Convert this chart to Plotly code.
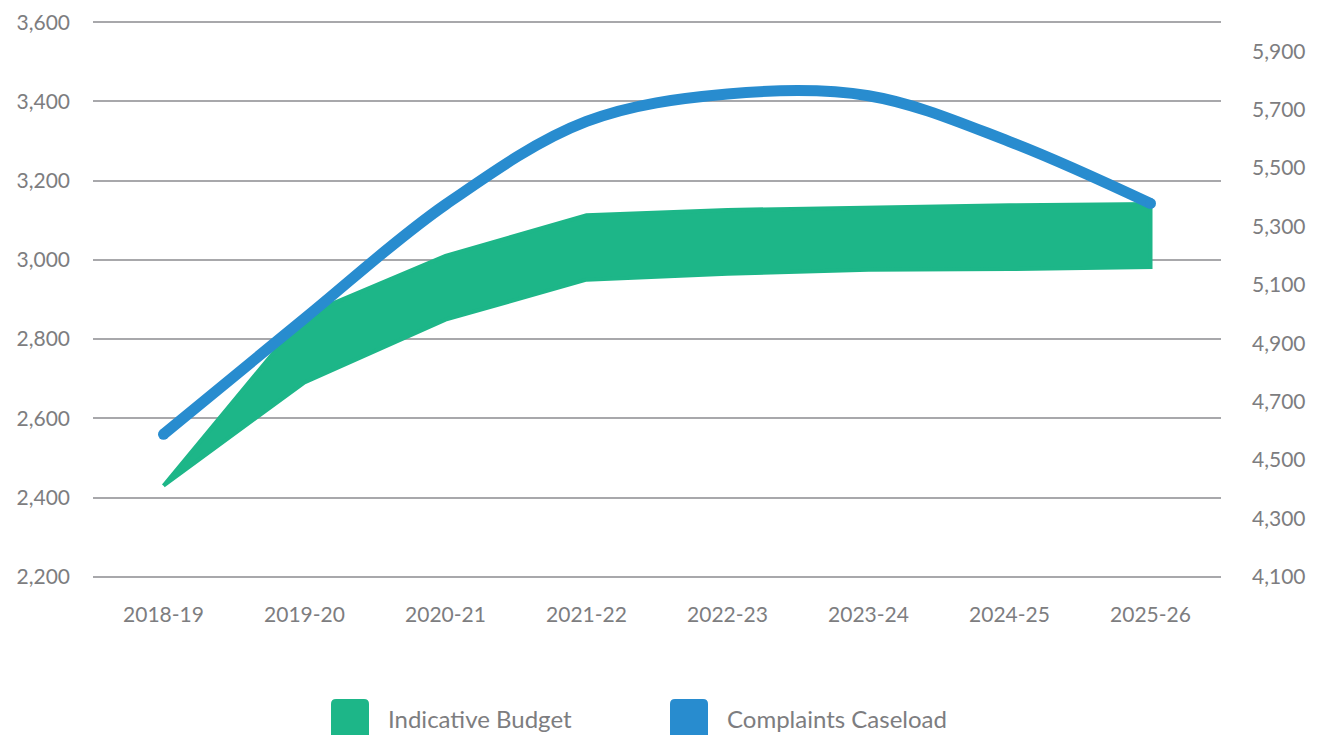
import plotly.graph_objects as go

years = ["2018-19", "2019-20", "2020-21", "2021-22", "2022-23", "2023-24", "2024-25", "2025-26"]
budget_upper = [2430, 2860, 3010, 3113, 3126, 3133, 3138, 3141]
budget_lower = [2430, 2691, 2849, 2950, 2965, 2975, 2977, 2982]
caseload = [4588, 4985, 5375, 5660, 5754, 5748, 5591, 5379]

left_ticks = [2200, 2400, 2600, 2800, 3000, 3200, 3400, 3600]
right_ticks = [4100, 4300, 4500, 4700, 4900, 5100, 5300, 5500, 5700, 5900]

GREEN = "#1db688"
BLUE = "#288ccf"
GRID = "#a8a8ab"
TXT = "#7d7d80"
FONT = "Lato"

# page has an 8px body margin, so the figure is sized/offset accordingly
OFF = 8
W, H = 1326 - OFF, 735 - OFF
ML, MR, MT, MB = 93 - OFF, 105, 21 - OFF, 157
PW, PH = W - ML - MR, H - MT - MB

fig = go.Figure()

# Budget band as closed polygon
fig.add_trace(go.Scatter(
    x=years + years[::-1],
    y=budget_upper + budget_lower[::-1],
    fill="toself", fillcolor=GREEN,
    line=dict(color=GREEN, width=4),
    mode="lines", name="Indicative Budget", showlegend=False,
    hoverinfo="skip",
))

fig.add_trace(go.Scatter(
    x=years, y=caseload, yaxis="y2",
    mode="lines", line=dict(color=BLUE, width=11, shape="spline", smoothing=1.0),
    name="Complaints Caseload", showlegend=False,
))
# round end caps
fig.add_trace(go.Scatter(
    x=[years[0], years[-1]], y=[caseload[0], caseload[-1]], yaxis="y2",
    mode="markers", marker=dict(color=BLUE, size=11, line=dict(width=0)),
    showlegend=False, hoverinfo="skip",
))

# page pixel -> paper coords
def px_x(x):
    return (x - OFF - ML) / PW

def px_y(y):
    return (H - MB - (y - OFF)) / PH

def rounded_rect(x0, y0, x1, y1, r):
    X = px_x
    Y = px_y
    return (f"M {X(x0+r)} {Y(y0)} L {X(x1-r)} {Y(y0)} Q {X(x1)} {Y(y0)} {X(x1)} {Y(y0+r)} "
            f"L {X(x1)} {Y(y1-r)} Q {X(x1)} {Y(y1)} {X(x1-r)} {Y(y1)} "
            f"L {X(x0+r)} {Y(y1)} Q {X(x0)} {Y(y1)} {X(x0)} {Y(y1-r)} "
            f"L {X(x0)} {Y(y0+r)} Q {X(x0)} {Y(y0)} {X(x0+r)} {Y(y0)} Z")

legend_items = [("Indicative Budget", GREEN, 331), ("Complaints Caseload", BLUE, 670)]
shapes = []
annotations = []
for label, col, x0 in legend_items:
    shapes.append(dict(type="path", xref="paper", yref="paper",
                       path=rounded_rect(x0, 699, x0 + 38, 740, 5),
                       fillcolor=col, line=dict(width=0)))
    annotations.append(dict(x=px_x(x0 + 55), y=px_y(718), xref="paper", yref="paper",
                            text=label, showarrow=False, xanchor="left", yanchor="middle",
                            font=dict(family=FONT, size=24, color=TXT)))

fig.update_layout(
    width=W, height=H,
    margin=dict(l=ML, r=MR, t=MT, b=MB, autoexpand=False),
    paper_bgcolor="white", plot_bgcolor="white",
    font=dict(family=FONT, size=21, color=TXT),
    xaxis=dict(type="category", range=[-0.5, 7.5], showgrid=False, zeroline=False,
               showline=False, ticks="", ticklabelstandoff=22,
               tickfont=dict(family=FONT, size=21, color=TXT)),
    yaxis=dict(range=[2197, 3603], tickvals=left_ticks,
               ticktext=[f"{v:,}" for v in left_ticks],
               showgrid=True, gridcolor=GRID, gridwidth=2, zeroline=False,
               showline=False, ticks="", ticklabelstandoff=22,
               tickfont=dict(family=FONT, size=21, color=TXT)),
    yaxis2=dict(range=[4096, 6004], overlaying="y", side="right",
                tickvals=right_ticks, ticktext=[f"{v:,}" for v in right_ticks],
                showgrid=False, zeroline=False, showline=False, ticks="",
                ticklabelstandoff=30,
                tickfont=dict(family=FONT, size=21, color=TXT)),
    shapes=shapes, annotations=annotations,
    hovermode=False,
)

fig.write_html("out.html")
